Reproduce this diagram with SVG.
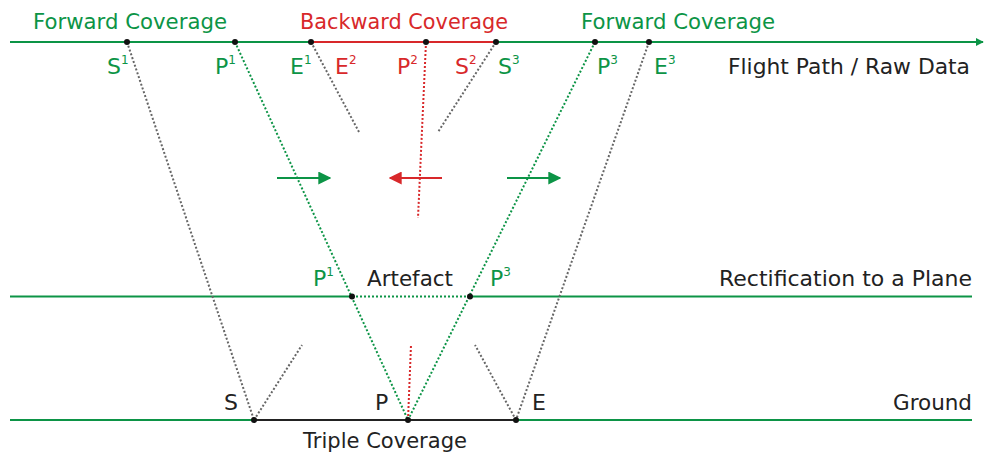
<svg xmlns="http://www.w3.org/2000/svg" width="984" height="457" viewBox="0 0 984 457">
<style>
text{font-family:"DejaVu Sans","Open Sans",sans-serif;font-size:22px}
.g{fill:#0c9446}
.r{fill:#d8282a}
.k{fill:#222}
.sup{font-size:12px}
.lg{stroke:#0c9446;stroke-width:2;fill:none}
.lr{stroke:#d8282a;stroke-width:2;fill:none}
.lk{stroke:#222;stroke-width:2;fill:none}
.dg{stroke:#0c9446;stroke-width:2;stroke-dasharray:2 2;fill:none}
.dr{stroke:#d8282a;stroke-width:2;stroke-dasharray:2 2;fill:none}
.dk{stroke:#666;stroke-width:2;stroke-dasharray:2 2;fill:none}
.dot{fill:#111}
</style>
<defs>
<marker id="ag" viewBox="0 0 10 10" refX="9" refY="5" markerWidth="6.5" markerHeight="6.5" orient="auto" markerUnits="strokeWidth"><path d="M0,0L10,5L0,10z" fill="#0c9446"/></marker>
<marker id="ar" viewBox="0 0 10 10" refX="9" refY="5" markerWidth="6.5" markerHeight="6.5" orient="auto" markerUnits="strokeWidth"><path d="M0,0L10,5L0,10z" fill="#d8282a"/></marker>
<marker id="aend" viewBox="0 0 10 10" refX="9" refY="5" markerWidth="4" markerHeight="5" orient="auto" markerUnits="strokeWidth"><path d="M0,0L10,5L0,10z" fill="#0c9446"/></marker>
</defs>
<g id="connectors">
<line class="lg" x1="10" y1="42" x2="311" y2="42"/>
<line class="lr" x1="311" y1="42" x2="496" y2="42"/>
<line class="lg" x1="496" y1="42" x2="983" y2="42" marker-end="url(#aend)"/>
<line class="lg" x1="10" y1="296.5" x2="352" y2="296.5"/>
<line class="dg" x1="352" y1="296.5" x2="470" y2="296.5"/>
<line class="lg" x1="470" y1="296.5" x2="972" y2="296.5"/>
<line class="lg" x1="10" y1="420" x2="254" y2="420"/>
<line class="lk" x1="254" y1="420" x2="516" y2="420"/>
<line class="lg" x1="516" y1="420" x2="972" y2="420"/>
<line class="dk" x1="127" y1="42" x2="254" y2="420"/>
<line class="dg" x1="235" y1="42" x2="408" y2="420"/>
<line class="dg" x1="595" y1="42" x2="408" y2="420"/>
<line class="dk" x1="649" y1="42" x2="516" y2="420"/>
<line class="dk" x1="311" y1="42" x2="359" y2="132"/>
<line class="dk" x1="496" y1="42" x2="438" y2="132"/>
<line class="dr" x1="426" y1="42" x2="418" y2="218"/>
<line class="dk" x1="254" y1="420" x2="302" y2="345"/>
<line class="dk" x1="516" y1="420" x2="475" y2="345"/>
<line class="dr" x1="408" y1="420" x2="411" y2="345"/>
<line class="lg" x1="277" y1="178" x2="330" y2="178" marker-end="url(#ag)"/>
<line class="lr" x1="442" y1="178" x2="390" y2="178" marker-end="url(#ar)"/>
<line class="lg" x1="507" y1="178" x2="560" y2="178" marker-end="url(#ag)"/>
</g>
<g id="points">
<circle class="dot" cx="127" cy="42" r="3"/>
<circle class="dot" cx="235" cy="42" r="3"/>
<circle class="dot" cx="311" cy="42" r="3"/>
<circle class="dot" cx="426" cy="42" r="3"/>
<circle class="dot" cx="496" cy="42" r="3"/>
<circle class="dot" cx="595" cy="42" r="3"/>
<circle class="dot" cx="649" cy="42" r="3"/>
<circle class="dot" cx="352" cy="296.5" r="3"/>
<circle class="dot" cx="470" cy="296.5" r="3"/>
<circle class="dot" cx="254" cy="420" r="3"/>
<circle class="dot" cx="408" cy="420" r="3"/>
<circle class="dot" cx="516" cy="420" r="3"/>
</g>
<g id="headings">
<text class="g" x="33" y="29" textLength="194" lengthAdjust="spacingAndGlyphs">Forward Coverage</text>
<text class="r" x="300" y="29" textLength="208" lengthAdjust="spacingAndGlyphs">Backward Coverage</text>
<text class="g" x="581" y="29" textLength="194" lengthAdjust="spacingAndGlyphs">Forward Coverage</text>
</g>
<g id="labels-top">
<text class="g" x="107" y="74">S<tspan class="sup" dy="-10">1</tspan></text>
<text class="g" x="215" y="74">P<tspan class="sup" dy="-10">1</tspan></text>
<text class="g" x="290" y="74">E<tspan class="sup" dy="-10">1</tspan></text>
<text class="r" x="335" y="74">E<tspan class="sup" dy="-10">2</tspan></text>
<text class="r" x="397" y="74">P<tspan class="sup" dy="-10">2</tspan></text>
<text class="r" x="455" y="74">S<tspan class="sup" dy="-10">2</tspan></text>
<text class="g" x="498" y="74">S<tspan class="sup" dy="-10">3</tspan></text>
<text class="g" x="597" y="74">P<tspan class="sup" dy="-10">3</tspan></text>
<text class="g" x="654" y="74">E<tspan class="sup" dy="-10">3</tspan></text>
<text class="k" x="728" y="74" textLength="242" lengthAdjust="spacingAndGlyphs">Flight Path / Raw Data</text>
</g>
<g id="labels-mid">
<text class="g" x="313" y="286">P<tspan class="sup" dy="-10">1</tspan></text>
<text class="k" x="367" y="286" textLength="86" lengthAdjust="spacingAndGlyphs">Artefact</text>
<text class="g" x="490" y="286">P<tspan class="sup" dy="-10">3</tspan></text>
<text class="k" x="719" y="286" textLength="253" lengthAdjust="spacingAndGlyphs">Rectification to a Plane</text>
</g>
<g id="labels-bottom">
<text class="k" x="224" y="410">S</text>
<text class="k" x="375" y="410">P</text>
<text class="k" x="532" y="410">E</text>
<text class="k" x="893" y="410" textLength="79" lengthAdjust="spacingAndGlyphs">Ground</text>
<text class="k" x="303" y="448" textLength="164" lengthAdjust="spacingAndGlyphs">Triple Coverage</text>
</g>
</svg>
